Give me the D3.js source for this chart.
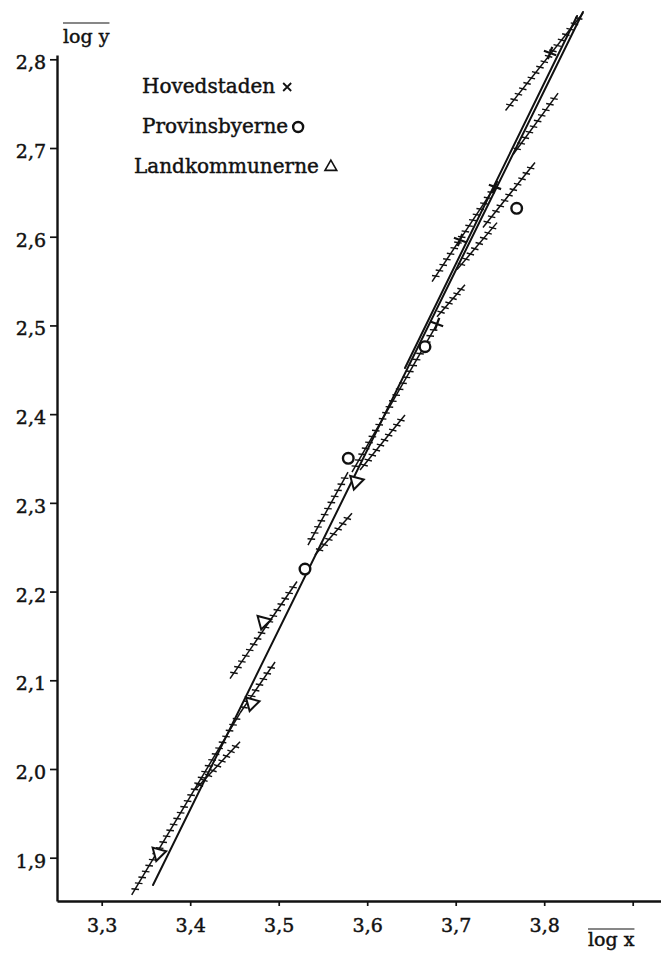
<!DOCTYPE html>
<html>
<head>
<meta charset="utf-8">
<script src="https://cdn.jsdelivr.net/npm/d3@7"></script>
<style>
  html, body { margin: 0; padding: 0; background: #fff; }
  svg { display: block; }
  text { font-family: "DejaVu Serif", "Liberation Serif", serif; fill: #111; stroke: #111; stroke-width: 0.45px; }
</style>
</head>
<body>
<svg id="chart" width="661" height="954"></svg>
<script>
// ---------- data ----------
const xTicks = [3.3, 3.4, 3.5, 3.6, 3.7, 3.8, 3.9];
const xTickLabels = ["3,3", "3,4", "3,5", "3,6", "3,7", "3,8", ""];
const yTicks = [1.9, 2.0, 2.1, 2.2, 2.3, 2.4, 2.5, 2.6, 2.7, 2.8];
const yTickLabels = ["1,9", "2,0", "2,1", "2,2", "2,3", "2,4", "2,5", "2,6", "2,7", "2,8"];
const xAxisRange = [3.2495, 3.932];
const yAxisRange = [1.8512, 2.8048];

const seriesNames = ["Hovedstaden", "Provinsbyerne", "Landkommunerne"];

// Hovedstaden (×)
const hovedX = [3.6789, 3.7049, 3.7444, 3.8066];
const hovedY = [2.5016, 2.5963, 2.6561, 2.8071];
// Provinsbyerne (○)
const provX = [3.5297, 3.5786, 3.6653, 3.7689];
const provY = [2.2254, 2.3502, 2.4760, 2.6320];
// Landkommunerne (△)
const landX = [3.3640, 3.4695, 3.4826, 3.5873];
const landY = [1.9050, 2.0741, 2.1660, 2.3239];

// solid straight lines: [x1, y1, x2, y2]
const solidLines = [
  [3.3580, 1.8692, 3.8438, 2.8533],
  [3.6427, 2.4520, 3.8371, 2.8488]
];
// hatched lines: [x1, y1, x2, y2]
const hatchedLines = [
  [3.3339, 1.8580, 3.4563, 2.0631],
  [3.4054, 1.9765, 3.4563, 2.0307],
  [3.4563, 2.0631, 3.4959, 2.1206],
  [3.4450, 2.1019, 3.5207, 2.2113],
  [3.5331, 2.2524, 3.5783, 2.3347],
  [3.5410, 2.2411, 3.5828, 2.2884],
  [3.5828, 2.3347, 3.6789, 2.5016],
  [3.5919, 2.3370, 3.6427, 2.3990],
  [3.6789, 2.5098, 3.7105, 2.5459],
  [3.6733, 2.5493, 3.7444, 2.6564],
  [3.7015, 2.5629, 3.7467, 2.6159],
  [3.7308, 2.6103, 3.7896, 2.6836],
  [3.7563, 2.7423, 3.8439, 2.8522],
  [3.7648, 2.6927, 3.8157, 2.7619]
];

// ---------- drawing ----------
const svg = d3.select("#chart");
svg.append("rect").attr("width", 661).attr("height", 954).attr("fill", "#fff");

const x = d3.scaleLinear().domain([3.3, 3.9]).range([101.7, 632.7]);
const y = d3.scaleLinear().domain([1.9, 2.8]).range([857.7, 59.3]);

const xAxisScale = x.copy().domain(xAxisRange).range(xAxisRange.map(x));
const yAxisScale = y.copy().domain(yAxisRange).range(yAxisRange.map(y));
const x0 = x(xAxisRange[0]);
const y0 = y(yAxisRange[0]);

const ink = "#111";

// Y axis
const gy = svg.append("g").attr("transform", `translate(${x0},0)`)
  .call(d3.axisLeft(yAxisScale).tickValues(yTicks)
    .tickFormat((d, i) => yTickLabels[i]).tickSize(7).tickSizeOuter(0).tickPadding(4));
gy.select(".domain").attr("stroke", ink).attr("stroke-width", 2.4);
gy.selectAll(".tick line").attr("stroke", ink).attr("stroke-width", 1.7);
gy.selectAll(".tick text").attr("font-family", "DejaVu Serif").attr("font-size", 19)
  .attr("fill", ink).attr("dy", "0.5em");

// X axis
const gx = svg.append("g").attr("transform", `translate(0,${y0})`)
  .call(d3.axisBottom(xAxisScale).tickValues(xTicks)
    .tickFormat((d, i) => xTickLabels[i]).tickSize(5).tickSizeOuter(0));
gx.select(".domain").attr("stroke", ink).attr("stroke-width", 2.4);
gx.selectAll(".tick line").attr("stroke", ink).attr("stroke-width", 1.7);
gx.selectAll(".tick text").attr("font-family", "DejaVu Serif").attr("font-size", 19)
  .attr("fill", ink).attr("y", 31).attr("dy", 0);

// axis titles with overline
function overTitle(label, tx, ty, lineY) {
  const t = svg.append("text").attr("x", tx).attr("y", ty)
    .attr("font-size", 19).text(label);
  const w = t.node().getComputedTextLength();
  svg.append("line").attr("x1", tx).attr("x2", tx + w)
    .attr("y1", lineY).attr("y2", lineY)
    .attr("stroke", ink).attr("stroke-width", 1.2);
}
overTitle("log y", 63, 43, 23);
overTitle("log x", 588, 946, 929);

const plot = svg.append("g");

// solid lines
plot.selectAll("line.solid").data(solidLines).join("line")
  .attr("class", "solid")
  .attr("x1", d => x(d[0])).attr("y1", d => y(d[1]))
  .attr("x2", d => x(d[2])).attr("y2", d => y(d[3]))
  .attr("stroke", ink).attr("stroke-width", 2).attr("stroke-linecap", "round");

// hatched lines
hatchedLines.forEach(d => {
  const ax = x(d[0]), ay = y(d[1]), bx = x(d[2]), by = y(d[3]);
  const g = plot.append("g");
  g.append("line").attr("x1", ax).attr("y1", ay).attr("x2", bx).attr("y2", by)
    .attr("stroke", ink).attr("stroke-width", 1.5);
  const len = Math.hypot(bx - ax, by - ay);
  const ux = (bx - ax) / len, uy = (by - ay) / len;
  const ang = 65 * Math.PI / 180;
  const tx = ux * Math.cos(ang) - uy * Math.sin(ang);
  const ty = ux * Math.sin(ang) + uy * Math.cos(ang);
  const n = Math.floor(len / 7);
  const ticks = d3.range(1, n + 1).map(k => k * len / (n + 1));
  g.selectAll("line.t").data(ticks).join("line").attr("class", "t")
    .attr("x1", s => ax + ux * s - tx * 3.8).attr("y1", s => ay + uy * s - ty * 3.8)
    .attr("x2", s => ax + ux * s + tx * 3.8).attr("y2", s => ay + uy * s + ty * 3.8)
    .attr("stroke", ink).attr("stroke-width", 1.4);
});

// markers
const crossPath = "M-6.5,0L6.5,0M0,-6.5L0,6.5";
plot.selectAll("path.hoved").data(hovedX).join("path").attr("class", "hoved")
  .attr("d", crossPath)
  .attr("transform", (d, i) => `translate(${x(d)},${y(hovedY[i])}) rotate(20)`)
  .attr("stroke", ink).attr("stroke-width", 2.3).attr("fill", "none");

plot.selectAll("circle.prov").data(provX).join("circle").attr("class", "prov")
  .attr("cx", d => x(d)).attr("cy", (d, i) => y(provY[i])).attr("r", 5.3)
  .attr("stroke", ink).attr("stroke-width", 2.4).attr("fill", "#fff");

const tri = d3.symbol().type(d3.symbolTriangle).size(85);
plot.selectAll("path.land").data(landX).join("path").attr("class", "land")
  .attr("d", tri)
  .attr("transform", (d, i) => `translate(${x(d)},${y(landY[i])}) rotate(195)`)
  .attr("stroke", ink).attr("stroke-width", 2).attr("fill", "#fff");

// legend
const leg = svg.append("g");
const legRows = [
  { name: seriesNames[0], tx: 142, ty: 93 },
  { name: seriesNames[1], tx: 142, ty: 133 },
  { name: seriesNames[2], tx: 134, ty: 173 }
];
legRows.forEach((r, i) => {
  const t = leg.append("text").attr("x", r.tx).attr("y", r.ty).attr("font-size", 20).text(r.name);
  const w = t.node().getComputedTextLength();
  const mx = r.tx + w + 12, my = r.ty - 6;
  if (i === 0) {
    leg.append("path").attr("d", "M-4,-4L4,4M-4,4L4,-4")
      .attr("transform", `translate(${mx},${my})`)
      .attr("stroke", ink).attr("stroke-width", 1.8);
  } else if (i === 1) {
    leg.append("circle").attr("cx", mx - 2).attr("cy", my).attr("r", 5)
      .attr("stroke", ink).attr("stroke-width", 2.4).attr("fill", "none");
  } else {
    leg.append("path").attr("d", d3.symbol().type(d3.symbolTriangle).size(60))
      .attr("transform", `translate(${mx},${my})`)
      .attr("stroke", ink).attr("stroke-width", 1.6).attr("fill", "none");
  }
});
</script>
</body>
</html>
